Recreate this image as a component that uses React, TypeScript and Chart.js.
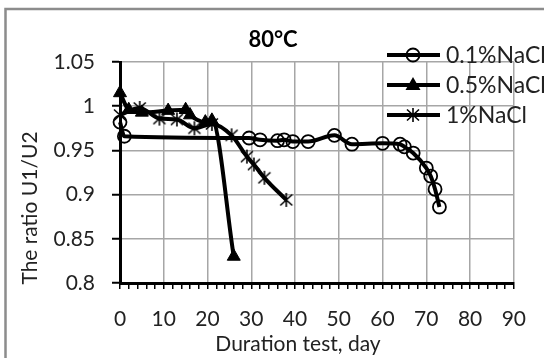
import React, { useEffect, useRef } from "react";
import { Chart, registerables } from "chart.js";

Chart.register(...registerables);

const chartTitle = "80°C";
const xAxisTitle = "Duration test, day";
const yAxisTitle = "The ratio U1/U2";
const seriesNames = ["0.1%NaCl", "0.5%NaCl", "1%NaCl"];

const days01 = [0, 1, 29.5, 32, 36, 37.5, 39.5, 43, 49, 53, 60, 64, 65, 67, 70, 71, 72, 73];
const ratio01 = [0.982, 0.966, 0.964, 0.962, 0.961, 0.962, 0.96, 0.96, 0.967, 0.957, 0.958, 0.957, 0.954, 0.947, 0.93, 0.921, 0.906, 0.886];

const days05 = [0, 2, 5, 11, 15, 16, 19.5, 21, 26];
const ratio05 = [1.015, 0.996, 0.993, 0.995, 0.996, 0.99, 0.982, 0.984, 0.83];

const days1 = [0, 4.5, 9, 13, 17, 21, 25.5, 29, 30.6, 33, 38];
const ratio1 = [0.99, 0.998, 0.986, 0.985, 0.975, 0.98, 0.967, 0.943, 0.934, 0.919, 0.894];

const xTickLabels = ["0", "10", "20", "30", "40", "50", "60", "70", "80", "90"];
const yTickLabels = ["0.8", "0.85", "0.9", "0.95", "1", "1.05"];

const FONT = "Lato, 'Open Sans', sans-serif";

function makeAsterisk(): HTMLCanvasElement {
  const c = document.createElement("canvas");
  c.width = 16;
  c.height = 16;
  const g = c.getContext("2d")!;
  g.strokeStyle = "#000";
  g.lineWidth = 1.6;
  g.beginPath();
  g.moveTo(8, 1);
  g.lineTo(8, 15);
  g.moveTo(2, 2.5);
  g.lineTo(14, 13.5);
  g.moveTo(14, 2.5);
  g.lineTo(2, 13.5);
  g.stroke();
  return c;
}

export default function App() {
  const ref = useRef<HTMLCanvasElement | null>(null);

  useEffect(() => {
    const canvas = ref.current!;
    const asterisk = makeAsterisk();
    const toPts = (xs: number[], ys: number[]) => xs.map((x, i) => ({ x, y: ys[i] }));

    const decor = {
      id: "decor",
      beforeDraw(chart: any) {
        const ctx = chart.ctx;
        ctx.save();
        ctx.fillStyle = "#fff";
        ctx.fillRect(0, 0, chart.width, chart.height);
        ctx.strokeStyle = "#8c8c8c";
        ctx.lineWidth = 2.5;
        ctx.strokeRect(5.5, 9, 700, 500);
        ctx.restore();
      },
      afterDraw(chart: any) {
        const ctx = chart.ctx;
        ctx.save();
        ctx.fillStyle = "#000";
        ctx.textAlign = "center";
        ctx.textBaseline = "middle";
        ctx.font = `bold 22px ${FONT}`;
        ctx.fillText(chartTitle, 273, 40);
        ctx.fillStyle = "#222";
        ctx.font = `21px ${FONT}`;
        ctx.fillText(xAxisTitle, 298, 344);
        ctx.save();
        ctx.translate(30, 208);
        ctx.rotate(-Math.PI / 2);
        ctx.fillText(yAxisTitle, 0, 0);
        ctx.restore();

        // legend
        const rows = [55, 85, 115];
        rows.forEach((y, i) => {
          ctx.strokeStyle = "#000";
          ctx.lineWidth = 4;
          ctx.beginPath();
          ctx.moveTo(387, y);
          ctx.lineTo(440, y);
          ctx.stroke();
          const mx = 413;
          if (i === 0) {
            ctx.lineWidth = 1.8;
            ctx.beginPath();
            ctx.arc(mx, y, 6.5, 0, Math.PI * 2);
            ctx.stroke();
          } else if (i === 1) {
            ctx.fillStyle = "#000";
            ctx.beginPath();
            ctx.moveTo(mx, y - 8);
            ctx.lineTo(mx + 7.5, y + 5);
            ctx.lineTo(mx - 7.5, y + 5);
            ctx.closePath();
            ctx.fill();
          } else {
            ctx.drawImage(asterisk, mx - 8, y - 8);
          }
          ctx.fillStyle = "#222";
          ctx.textAlign = "left";
          ctx.font = `23px ${FONT}`;
          ctx.fillText(seriesNames[i], 446, y + 1);
        });
        ctx.restore();
      },
    };

    const chart = new Chart(canvas, {
      type: "line",
      data: {
        datasets: [
          {
            label: seriesNames[0],
            data: toPts(days01, ratio01),
            borderColor: "#000",
            borderWidth: 4,
            pointStyle: "circle",
            pointRadius: 6.5,
            pointBorderWidth: 1.8,
            pointBorderColor: "#000",
            pointBackgroundColor: "rgba(0,0,0,0)",
            cubicInterpolationMode: "monotone",
            clip: false as any,
          },
          {
            label: seriesNames[1],
            data: toPts(days05, ratio05),
            borderColor: "#000",
            borderWidth: 4,
            pointStyle: "triangle",
            pointRadius: 7.5,
            pointBorderWidth: 1,
            pointBorderColor: "#000",
            pointBackgroundColor: "#000",
            cubicInterpolationMode: "monotone",
            clip: false as any,
          },
          {
            label: seriesNames[2],
            data: toPts(days1, ratio1),
            borderColor: "#000",
            borderWidth: 4,
            pointStyle: asterisk as any,
            pointRadius: 8,
            cubicInterpolationMode: "monotone",
            clip: false as any,
          },
        ],
      },
      options: {
        animation: false,
        responsive: false,
        layout: { padding: { left: 0, right: 22, top: 62, bottom: 0 } },
        plugins: {
          legend: { display: false },
          title: { display: false },
          tooltip: { enabled: false },
        },
        scales: {
          x: {
            type: "linear",
            min: 0,
            max: 90,
            afterFit: (s: any) => {
              s.height = 75;
            },
            border: { color: "#000", width: 3 },
            grid: {
              color: (c: any) => (c.tick && c.tick.value % 10 === 0 ? "#a6a6a6" : "rgba(0,0,0,0)"),
              lineWidth: 1.5,
              tickColor: "#000",
              tickLength: 6,
              tickWidth: 1.5,
            },
            ticks: {
              stepSize: 2,
              autoSkip: false,
              maxRotation: 0,
              padding: 18,
              color: "#222",
              font: { family: FONT, size: 21 },
              callback: (v: any) => (Number(v) % 10 === 0 ? xTickLabels[Number(v) / 10] : ""),
            },
          },
          y: {
            min: 0.8,
            max: 1.05,
            afterFit: (s: any) => {
              s.width = 120;
            },
            border: { color: "#000", width: 3 },
            grid: {
              color: "#a6a6a6",
              lineWidth: 1.5,
              tickColor: "#000",
              tickLength: 8,
              tickWidth: 2,
            },
            ticks: {
              stepSize: 0.05,
              padding: 17,
              color: "#222",
              font: { family: FONT, size: 21 },
              callback: (_v: any, i: number) => yTickLabels[i],
            },
          },
        },
      },
      plugins: [decor],
    });

    return () => chart.destroy();
  }, []);

  return (
    <div style={{ position: "fixed", left: 0, top: 0, width: 544, height: 358, background: "#fff" }}>
      <canvas ref={ref} width={544} height={358} style={{ display: "block" }} />
    </div>
  );
}
